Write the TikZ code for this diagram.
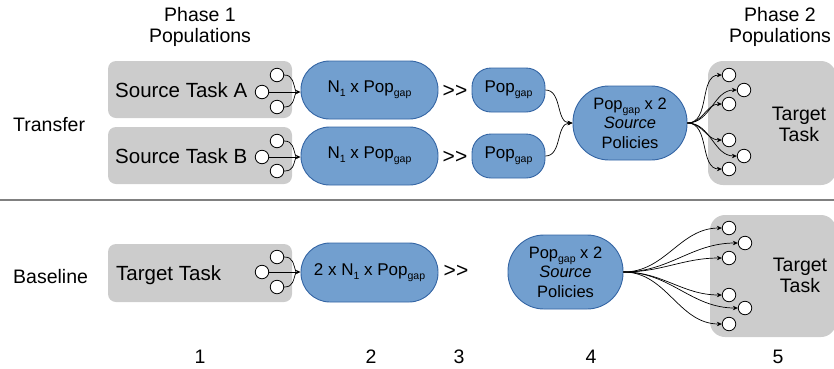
\documentclass[tikz,border=0pt]{standalone}
\usepackage{fontspec}
\setmainfont{Liberation Sans}
\usetikzlibrary{arrows.meta}
\definecolor{boxgray}{HTML}{CCCCCC}
\definecolor{bluefill}{HTML}{729FCF}
\definecolor{blueedge}{HTML}{3465A4}
\definecolor{sepgray}{HTML}{808080}
\newcommand{\subgap}{\raisebox{-4pt}{\fontsize{10.5}{11}\selectfont gap}}
\newcommand{\subone}{\raisebox{-4pt}{\fontsize{10.5}{11}\selectfont 1}}
\newcommand{\gtgt}{{>}\kern0pt{>}}
\begin{document}
\begin{tikzpicture}[x=1pt,y=-1pt,
  graybox/.style={fill=boxgray, draw=none, rounded corners=8pt, inner sep=0pt},
  bigtask/.style={fill=boxgray, draw=none, rounded corners=15pt, inner sep=0pt},
  big/.style={font=\fontsize{19.5}{21}\selectfont, inner sep=0pt},
  srcfont/.style={font=\fontsize{20.5}{22}\selectfont, inner sep=0pt},
  bluebox/.style={fill=bluefill, draw=blueedge, line width=0.9pt, inner sep=0pt,
    font=\fontsize{17}{19}\selectfont, align=center},
  popc/.style={circle, draw=black, fill=white, minimum size=13.5pt, inner sep=0pt, line width=0.8pt},
  arr/.style={-{Stealth[length=5pt,width=4.5pt]}, line width=0.7pt},
  plain/.style={line width=0.7pt}
]
\useasboundingbox (0,0) rectangle (834,368);

% headers
\node[big, align=center, anchor=north] (ph1) at (200,7) {Phase 1\\Populations};
\node[big, align=center, anchor=north] (ph2) at (780,7) {Phase 2\\Populations};
\node[big, anchor=base west] (ltr) at (13,131) {Transfer};
\node[big, anchor=base west] (lbl) at (13,283) {Baseline};

% separator
\draw[sepgray, line width=1.5pt] (0,200) -- (834,200);

% ---------- Transfer row ----------
\node[graybox, minimum width=184pt, minimum height=57pt] (srcA) at (200,89.5) {};
\node[graybox, minimum width=184pt, minimum height=57pt] (srcB) at (200,155.5) {};
\node[srcfont, anchor=base west] (srcAt) at (115,97) {Source Task A};
\node[srcfont, anchor=base west] (srcBt) at (115,163) {Source Task B};

\node[popc] (tA) at (277,75) {};
\node[popc] (mA) at (262,92) {};
\node[popc] (bA) at (277,107) {};
\node[popc] (tB) at (277,141) {};
\node[popc] (mB) at (262,157) {};
\node[popc] (bB) at (277,171) {};

\node[bluebox, minimum width=137pt, minimum height=58pt, rounded corners=28.5pt] (NA) at (369.5,90) {N\subone{} x Pop\subgap};
\node[bluebox, minimum width=137pt, minimum height=58pt, rounded corners=28.5pt] (NB) at (369.5,156) {N\subone{} x Pop\subgap};

\coordinate (jA) at (296,92);
\coordinate (jB) at (296,157);
\draw[arr] (mA.east) -- (mA.east -| NA.west);
\draw[plain] (tA.east) .. controls +(9,0) and +(-3,-9) .. (jA);
\draw[plain] (bA.east) .. controls +(9,0) and +(-3,9) .. (jA);
\draw[arr] (mB.east) -- (mB.east -| NB.west);
\draw[plain] (tB.east) .. controls +(9,0) and +(-3,-9) .. (jB);
\draw[plain] (bB.east) .. controls +(9,0) and +(-3,9) .. (jB);

\node[big, font=\fontsize{21}{22}\selectfont] (ggA) at (455,91) {\gtgt};
\node[big, font=\fontsize{21}{22}\selectfont] (ggB) at (455,157) {\gtgt};

\node[bluebox, minimum width=73pt, minimum height=44pt, rounded corners=19pt] (PA) at (508.5,90) {Pop\subgap};
\node[bluebox, minimum width=73pt, minimum height=44pt, rounded corners=19pt] (PB) at (508.5,156) {Pop\subgap};

\node[bluebox, minimum width=114pt, minimum height=74pt, rounded corners=36pt,
  font=\fontsize{16.5}{19.5}\selectfont] (EA) at (630,123) {Pop\subgap{} x 2\\\textit{Source}\\Policies};

\draw[arr] (PA.east) to[out=0,in=180] (EA.west);
\draw[arr] (PB.east) to[out=0,in=180] (EA.west);

\node[bigtask, minimum width=128pt, minimum height=124pt] (tgtA) at (772,123) {};
\node[big, align=center, anchor=north] (tgtAt) at (799,107) {Target\\Task};

\node[popc] (a1) at (729,75) {};
\node[popc] (a2) at (744,90) {};
\node[popc] (a3) at (729,104) {};
\node[popc] (a4) at (729,140) {};
\node[popc] (a5) at (744,156) {};
\node[popc] (a6) at (729,169) {};
\foreach \c in {a1,a2,a3,a4,a5,a6}
  \draw[arr] (EA.east) to[out=0,in=180] (\c.west);

% ---------- Baseline row ----------
\node[graybox, minimum width=184pt, minimum height=58pt] (srcC) at (200,273) {};
\node[srcfont, anchor=base west] (srcCt) at (116,280) {Target Task};
\node[popc] (tC) at (277,257) {};
\node[popc] (mC) at (262,272) {};
\node[popc] (bC) at (277,287) {};
\node[bluebox, minimum width=137pt, minimum height=59pt, rounded corners=29pt] (NC) at (369.5,272.5) {2 x N\subone{} x Pop\subgap};
\coordinate (jC) at (296,272);
\draw[arr] (mC.east) -- (mC.east -| NC.west);
\draw[plain] (tC.east) .. controls +(9,0) and +(-3,-9) .. (jC);
\draw[plain] (bC.east) .. controls +(9,0) and +(-3,9) .. (jC);

\node[big, font=\fontsize{21}{22}\selectfont] (ggC) at (456,271) {\gtgt};

\node[bluebox, minimum width=115pt, minimum height=74pt, rounded corners=36pt,
  font=\fontsize{16.5}{19.5}\selectfont] (EC) at (565.5,272) {Pop\subgap{} x 2\\\textit{Source}\\Policies};

\node[bigtask, minimum width=126pt, minimum height=122pt] (tgtC) at (773,276) {};
\node[big, align=center, anchor=north] (tgtCt) at (800,258) {Target\\Task};

\node[popc] (c1) at (729,228) {};
\node[popc] (c2) at (745,243) {};
\node[popc] (c3) at (729,258) {};
\node[popc] (c4) at (729,295) {};
\node[popc] (c5) at (745,308) {};
\node[popc] (c6) at (729,324) {};
\foreach \c in {c1,c2,c3,c4,c5,c6}
  \draw[arr] (EC.east) to[out=0,in=180] (\c.west);

% step numbers
\node[big, anchor=base] (n1) at (200,363) {1};
\node[big, anchor=base] (n2) at (371,363) {2};
\node[big, anchor=base] (n3) at (459,363) {3};
\node[big, anchor=base] (n4) at (591,363) {4};
\node[big, anchor=base] (n5) at (778,363) {5};
\end{tikzpicture}
\end{document}
